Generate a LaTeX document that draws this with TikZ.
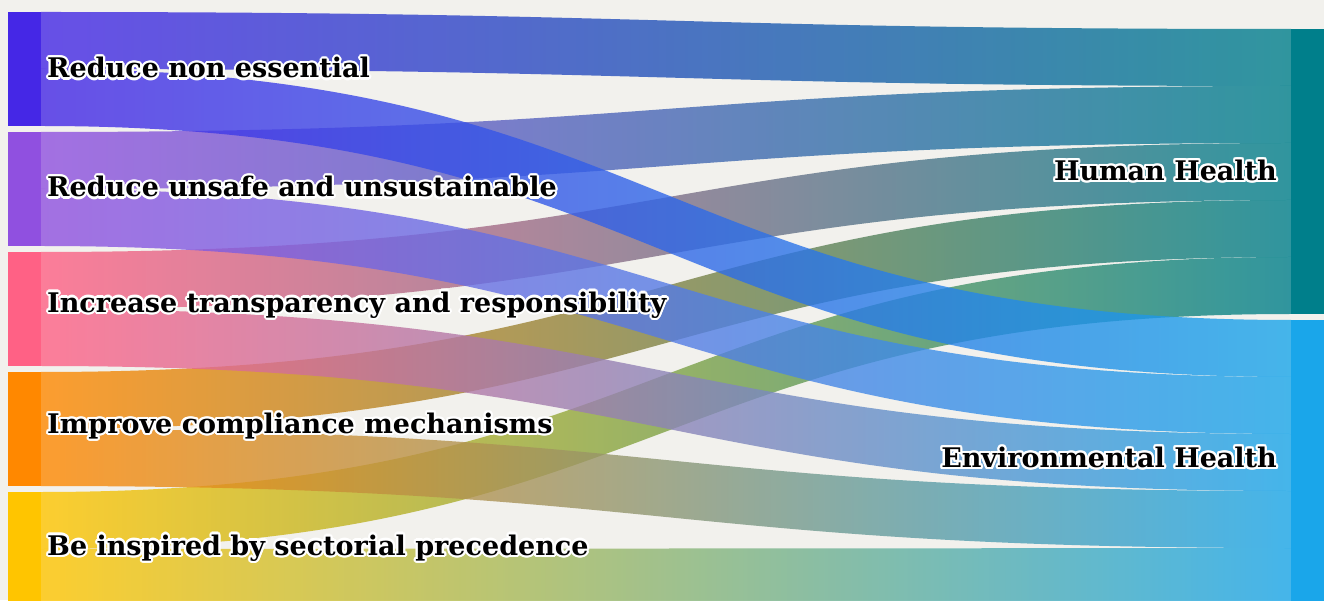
\documentclass[tikz,border=0pt]{standalone}
\usepackage{fontspec}
\setmainfont{DejaVu Serif}
\usepackage{contour}
\contourlength{2.2pt}
\usetikzlibrary{positioning,calc}

\definecolor{paper}{RGB}{242,241,237}
\definecolor{cNon}{RGB}{69,39,230}
\definecolor{cUnsafe}{RGB}{144,80,224}
\definecolor{cTransp}{RGB}{255,97,133}
\definecolor{cCompl}{RGB}{255,136,0}
\definecolor{cInsp}{RGB}{255,197,0}
\definecolor{cHuman}{RGB}{0,127,139}
\definecolor{cEnv}{RGB}{26,166,234}

% one band of the sankey: source, half, target, slot, colours
\newcommand{\band}[6]{%
  \shade[left color=#5, right color=#6, fill opacity=0.8]
    let \p1=($(#1.north east)+(0,-57*#2)$),
        \p2=($(#3.north west)+(0,-57*#4)$),
        \n1={(\x1+\x2)/2} in
    (\p1) .. controls (\n1,\y1) and (\n1,\y2) .. (\p2)
    -- ($(\p2)+(0,-57)$) .. controls (\n1,\y2-57) and (\n1,\y1-57) .. ($(\p1)+(0,-57)$)
    -- cycle;}

\tikzset{
  srcbar/.style={fill=#1, minimum width=33pt, minimum height=114pt, inner sep=0pt, outer sep=0pt},
  tgtbar/.style={fill=#1, minimum width=33pt, minimum height=285pt, inner sep=0pt, outer sep=0pt},
  lbl/.style={inner sep=0pt, font=\bfseries\fontsize{27}{31}\selectfont}
}

\begin{document}
\begin{tikzpicture}[x=1pt, y=1pt]
    \path[use as bounding box, fill=paper] (0,0) rectangle (1324,600);
    \clip (0,0) rectangle (1324,600);

    % left side
    \node[srcbar=cNon] (s1) at (24.5,531) {};
    \node[srcbar=cUnsafe, below=6pt of s1] (s2) {};
    \node[srcbar=cTransp, below=6pt of s2] (s3) {};
    \node[srcbar=cCompl, below=6pt of s3] (s4) {};
    \node[srcbar=cInsp, below=6pt of s4] (s5) {};

    % right side
    \node[tgtbar=cHuman] (hh) at (1307.5,428.5) {};
    \node[tgtbar=cEnv, below=6pt of hh] (eh) {};

    % flows, human health first
    \foreach \s/\c [count=\i from 0] in {s1/cNon,s2/cUnsafe,s3/cTransp,s4/cCompl,s5/cInsp}
        \band{\s}{0}{hh}{\i}{\c}{cHuman};
    \foreach \s/\c [count=\i from 0] in {s1/cNon,s2/cUnsafe,s3/cTransp,s4/cCompl,s5/cInsp}
        \band{\s}{1}{eh}{\i}{\c}{cEnv};

    % labels
    \node[lbl, right=6pt of s1] (t1) {\contour{white}{Reduce non essential}};
    \node[lbl, right=6pt of s2, yshift=1pt] (t2) {\contour{white}{Reduce unsafe and unsustainable}};
    \node[lbl, right=6pt of s3, yshift=3pt] (t3) {\contour{white}{Increase transparency and responsibility}};
    \node[lbl, right=6pt of s4, yshift=2pt] (t4) {\contour{white}{Improve compliance mechanisms}};
    \node[lbl, right=6pt of s5] (t5) {\contour{white}{Be inspired by sectorial precedence}};
    \node[lbl, left=14pt of hh] (th) {\contour{white}{Human Health}};
    \node[lbl, left=14pt of eh, yshift=4pt] (te) {\contour{white}{Environmental Health}};
\end{tikzpicture}
\end{document}
